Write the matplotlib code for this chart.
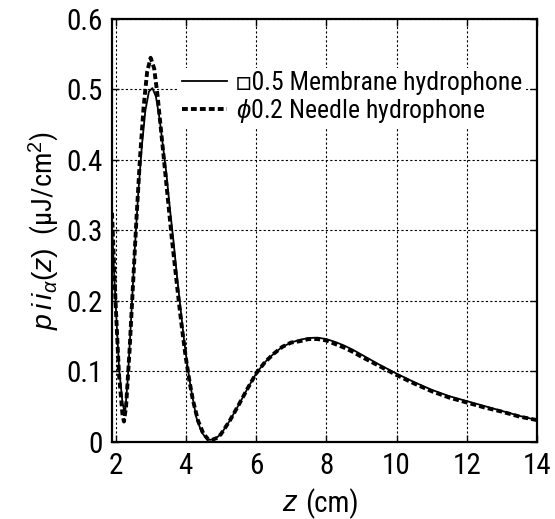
import matplotlib
matplotlib.use('Agg')
import matplotlib.pyplot as plt
from matplotlib.ticker import FixedLocator, FuncFormatter

plt.rcParams['font.family'] = ['Roboto Condensed', 'Lato', 'DejaVu Sans']
plt.rcParams['mathtext.fontset'] = 'custom'
plt.rcParams['mathtext.rm'] = 'Liberation Sans'
plt.rcParams['mathtext.it'] = 'Liberation Sans:italic'

# membrane hydrophone (solid)
z_mem = [1.9, 2.0, 2.1, 2.2, 2.27, 2.35, 2.45, 2.55, 2.65, 2.75, 2.85, 2.95, 3.05,
         3.15, 3.25, 3.35, 3.45, 3.55, 3.65, 3.75, 3.85, 3.95, 4.05, 4.15, 4.3,
         4.45, 4.6, 4.7, 4.85, 5.0, 5.25, 5.5, 5.75, 6.0, 6.25, 6.5, 6.75, 7.0,
         7.25, 7.5, 7.75, 8.0, 8.25, 8.5, 8.75, 9.0, 9.5, 10.0, 10.5, 11.0, 11.5,
         12.0, 12.5, 13.0, 13.5, 14.0]
pii_mem = [0.305, 0.20, 0.105, 0.055, 0.040, 0.09, 0.18, 0.275, 0.355, 0.42, 0.47,
           0.497, 0.502, 0.49, 0.46, 0.42, 0.38, 0.33, 0.285, 0.235, 0.19, 0.145,
           0.107, 0.075, 0.035, 0.014, 0.004, 0.003, 0.005, 0.011, 0.03, 0.052,
           0.075, 0.097, 0.113, 0.125, 0.135, 0.141, 0.145, 0.1475, 0.148, 0.146,
           0.142, 0.137, 0.131, 0.124, 0.11, 0.097, 0.085, 0.074, 0.065, 0.058,
           0.051, 0.044, 0.037, 0.031]

# needle hydrophone (dashed)
z_ndl = [1.9, 2.0, 2.1, 2.2, 2.24, 2.3, 2.4, 2.5, 2.6, 2.7, 2.8, 2.9, 3.0, 3.1,
         3.2, 3.3, 3.4, 3.5, 3.6, 3.7, 3.8, 3.9, 4.0, 4.1, 4.2, 4.35, 4.5, 4.65,
         4.75, 4.9, 5.0, 5.25, 5.5, 5.75, 6.0, 6.25, 6.5, 6.75, 7.0, 7.25, 7.5,
         7.75, 8.0, 8.25, 8.5, 8.75, 9.0, 9.5, 10.0, 10.5, 11.0, 11.5, 12.0, 12.5,
         13.0, 13.5, 14.0]
pii_ndl = [0.325, 0.20, 0.095, 0.038, 0.029, 0.05, 0.13, 0.225, 0.32, 0.405, 0.475,
           0.525, 0.545, 0.53, 0.49, 0.44, 0.39, 0.34, 0.29, 0.245, 0.20, 0.158,
           0.12, 0.088, 0.06, 0.03, 0.012, 0.003, 0.003, 0.006, 0.011, 0.03, 0.052,
           0.075, 0.097, 0.113, 0.125, 0.135, 0.141, 0.143, 0.146, 0.146, 0.144,
           0.139, 0.134, 0.128, 0.121, 0.108, 0.095, 0.083, 0.072, 0.063, 0.056,
           0.049, 0.043, 0.036, 0.031]

xticks = [2, 4, 6, 8, 10, 12, 14]
yticks = [0, 0.1, 0.2, 0.3, 0.4, 0.5, 0.6]
labels = ['\u25a10.5 Membrane hydrophone', r'$\phi$0.2 Needle hydrophone']

fig = plt.figure(figsize=(5.55, 5.19), dpi=100)
ax = fig.add_axes([0.2018, 0.1484, 0.7658, 0.815])

ax.plot(z_mem, pii_mem, color='black', lw=1.3, label=labels[0])
ax.plot(z_ndl, pii_ndl, color='black', lw=2.8, dashes=(1.5, 0.8), label=labels[1])

ax.set_xlim(1.9, 14)
ax.set_ylim(0, 0.6)
ax.xaxis.set_major_locator(FixedLocator(xticks))
ax.yaxis.set_major_locator(FixedLocator(yticks))
ax.yaxis.set_major_formatter(FuncFormatter(lambda v, p: '0' if v == 0 else f'{v:.1f}'))
ax.tick_params(direction='in', length=5, width=1, top=True, right=True,
               labelsize=21, pad=7)
ax.grid(True, color='black', linestyle=(0, (2, 2)), linewidth=0.8)
for s in ax.spines.values():
    s.set_linewidth(1.6)

ax.set_ylabel(r'$p\,i\,i_{\alpha}(z)$  (μJ/cm$^2$)', fontsize=20.5, labelpad=3,
              y=0.5)
ax.text(0.435, -0.145, 'z', fontsize=21, ha='right', va='center',
        family='Liberation Sans', style='italic', transform=ax.transAxes)
ax.text(0.455, -0.145, '(cm)', fontsize=21, ha='left', va='center',
        transform=ax.transAxes)

leg = ax.legend(loc='upper right', bbox_to_anchor=(0.975, 0.885), borderaxespad=0,
                fontsize=18.5, frameon=True, fancybox=False, framealpha=1,
                edgecolor='none', facecolor='white', handlelength=1.75,
                handletextpad=0.35, labelspacing=0.05, borderpad=0.15)

fig.savefig('out.png', dpi=100)
